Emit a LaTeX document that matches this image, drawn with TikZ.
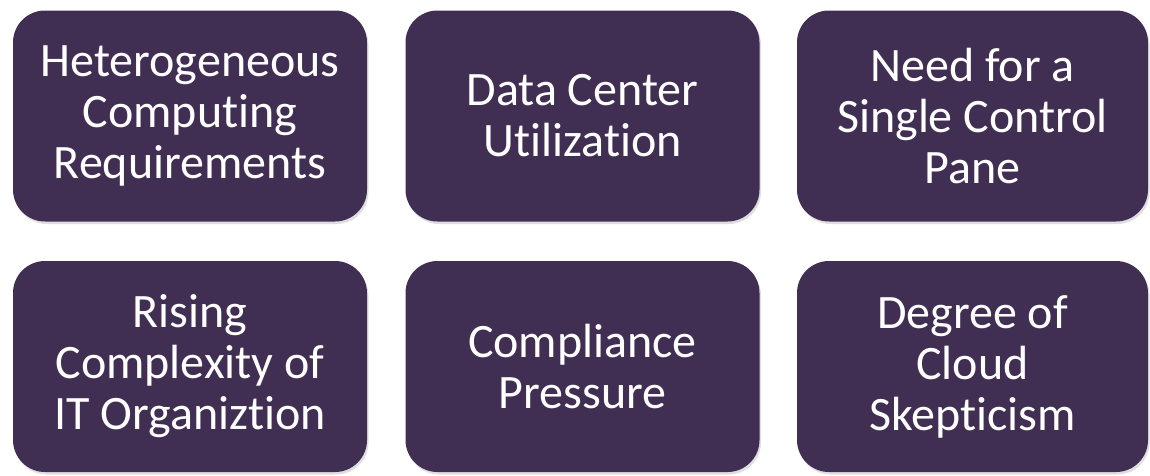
\documentclass[tikz,border=0pt]{standalone}
\usepackage{fontspec}
\setmainfont[Ligatures={NoCommon}]{Carlito}
\usetikzlibrary{shadows}
\definecolor{boxpurple}{HTML}{402F52}
\begin{document}
\begin{tikzpicture}[x=1pt,y=-1pt,
  card/.style={fill=boxpurple, rounded corners=32pt, text=white, align=center,
    minimum width=354pt, minimum height=211pt, inner sep=0pt,
    font=\fontsize{48}{51}\selectfont,
    drop shadow={opacity=0.25, shadow xshift=1.5pt, shadow yshift=-2.5pt}}]
\useasboundingbox (0,0) rectangle (1150,475);
\node[card] (a) at (190,116) {Heterogeneous\\Computing\\Requirements};
\node[card] (b) at (582.5,116) {Data Center\\Utilization};
\node[card, minimum width=351pt] (c) at (972.5,116) {Need for a\\Single Control\\Pane};
\node[card] (d) at (190,366.5) {Rising\\Complexity of\\IT Organiztion};
\node[card] (e) at (582.5,366.5) {Compliance\\Pressure};
\node[card, minimum width=351pt] (f) at (972.5,366.5) {Degree of\\Cloud\\Skepticism};
\end{tikzpicture}
\end{document}
